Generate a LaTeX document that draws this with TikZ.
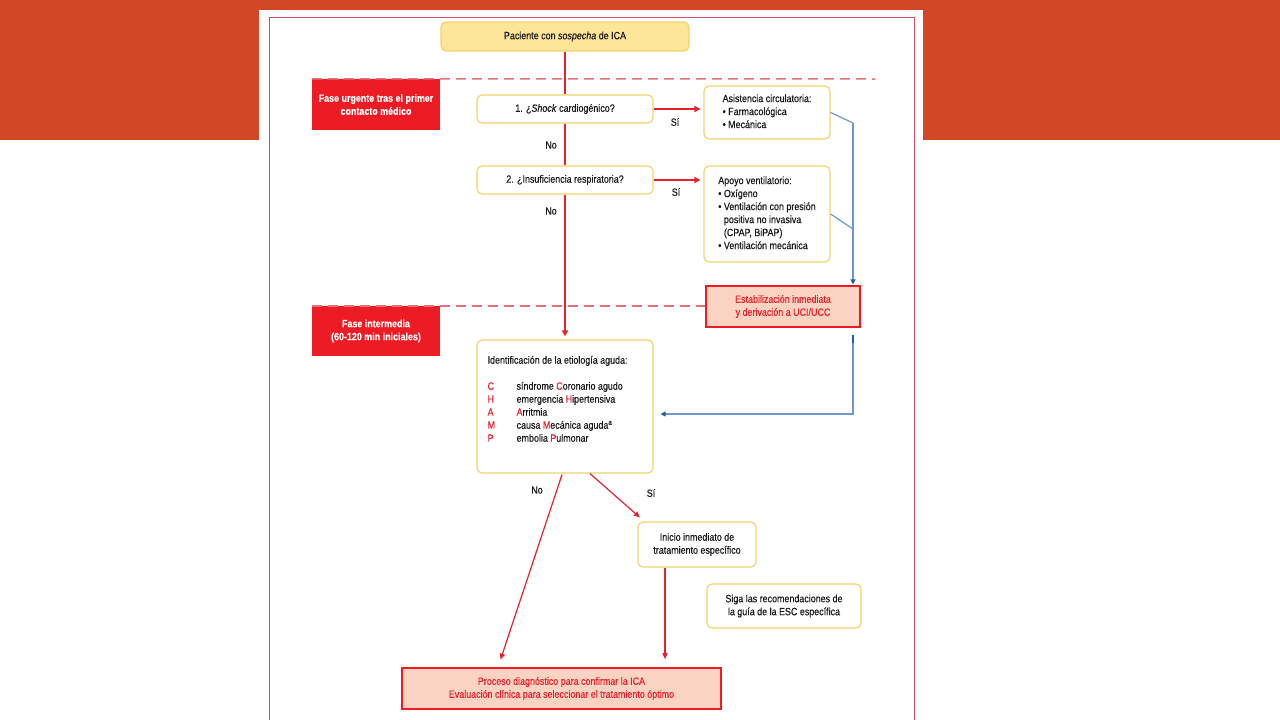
\documentclass[tikz,border=0pt]{standalone}
\usepackage{fontspec}
\setmainfont{Liberation Sans}[FakeStretch=0.85,FakeBold=0.3]
\usetikzlibrary{arrows.meta,calc}
\definecolor{bandorange}{HTML}{D24726}
\definecolor{panelred}{HTML}{C8506A}
\definecolor{fasered}{HTML}{ED1C24}
\definecolor{dashred}{HTML}{E8707A}
\definecolor{gold}{HTML}{F3D36E}
\definecolor{topfill}{HTML}{FDE59A}
\definecolor{salmon}{HTML}{FAD3C3}
\definecolor{txtred}{HTML}{E8202A}
\definecolor{lineblue}{HTML}{6F98CC}
\definecolor{darkblue}{HTML}{1F5FA8}
\definecolor{flowred}{HTML}{E8202A}
\definecolor{txtgray}{HTML}{1A1A1A}
\tikzset{
  base/.style={inner sep=0pt, align=center, text=txtgray, font=\fontsize{10.5}{13}\selectfont},
  ybox/.style={base, draw=gold, line width=1.2pt, rounded corners=5pt, fill=white},
  topbox/.style={ybox, fill=topfill},
  fasebox/.style={base, fill=fasered, text=white, font=\fontsize{10.5}{13}\selectfont\bfseries},
  salbox/.style={base, draw=fasered, line width=1.2pt, fill=salmon, text=txtred},
  lbl/.style={base},
  mainflow/.style={draw=flowred, line width=2pt},
  mainarrow/.style={mainflow, -{Triangle[length=6pt,width=6pt]}},
  thinarrow/.style={draw=flowred, line width=1.2pt, -{Triangle[length=6pt,width=5pt]}},
  dashline/.style={draw=dashred, line width=1.5pt, dash pattern=on 10pt off 6pt},
  blueline/.style={draw=lineblue, line width=1.2pt},
  bluearrow/.style={blueline, -{Triangle[length=5pt,width=5pt,color=darkblue]}},
}
\begin{document}
\begin{tikzpicture}[x=1pt,y=-1pt]
\useasboundingbox (0,0) rectangle (1280,720);
% background
\fill[bandorange] (0,0) rectangle (1280,140);
\fill[white] (259,10) rectangle (923,722);
\draw[panelred, line width=1pt] (269,17) rectangle (914,730);

% phase boxes
\node[fasebox, minimum width=128pt, minimum height=51pt] (fase1) at (376,104.5)
  {Fase urgente tras el primer\\contacto médico};
\node[fasebox, minimum width=128pt, minimum height=50pt] (fase2) at (376,331)
  {Fase intermedia\\(60-120 min iniciales)};

% nodes
\node[topbox, minimum width=248pt, minimum height=29pt] (top) at (565,36.5)
  {Paciente con \textit{sospecha} de ICA};
\node[ybox, minimum width=176pt, minimum height=28pt] (q1) at (565,109)
  {1. ¿\textit{Shock} cardiogénico?};
\node[ybox, minimum width=176pt, minimum height=28pt] (q2) at (565,180)
  {2. ¿Insuficiencia respiratoria?};
\node[ybox, minimum width=126pt, minimum height=53pt, align=left] (asis) at (767,112.5)
  {\begin{tabular}{@{}l@{}}Asistencia circulatoria:\\
   \textbullet\ Farmacológica\\ \textbullet\ Mecánica\end{tabular}};
\node[ybox, minimum width=126pt, minimum height=96pt, align=left] (apoyo) at (767,214)
  {\begin{tabular}{@{}l@{}}Apoyo ventilatorio:\\
   \textbullet\ Oxígeno\\
   \textbullet\ Ventilación con presión\\
   \phantom{\textbullet\ }positiva no invasiva\\
   \phantom{\textbullet\ }(CPAP, BiPAP)\\
   \textbullet\ Ventilación mecánica\end{tabular}};
\node[salbox, minimum width=154pt, minimum height=41pt] (estab) at (783,306.5)
  {Estabilización inmediata\\y derivación a UCI/UCC};
\node[ybox, minimum width=176pt, minimum height=133pt] (ident) at (565,406.5) {};
\node[base, anchor=north west, align=left] (identtxt) at ($(ident.north west)+(11,15)$)
  {\begin{tabular}{@{}p{29pt}@{}l@{}}
   \multicolumn{2}{@{}l@{}}{Identificación de la etiología aguda:}\\[13pt]
   \textcolor{txtred}{C} & síndrome \textcolor{txtred}{C}oronario agudo\\
   \textcolor{txtred}{H} & emergencia \textcolor{txtred}{H}ipertensiva\\
   \textcolor{txtred}{A} & \textcolor{txtred}{A}rritmia\\
   \textcolor{txtred}{M} & causa \textcolor{txtred}{M}ecánica aguda\textsuperscript{a}\\
   \textcolor{txtred}{P} & embolia \textcolor{txtred}{P}ulmonar
   \end{tabular}};
\node[ybox, minimum width=118pt, minimum height=45pt] (inicio) at (697,544.5)
  {Inicio inmediato de\\tratamiento específico};
\node[ybox, minimum width=154pt, minimum height=44pt] (siga) at (784,606)
  {Siga las recomendaciones de\\la guía de la ESC específica};
\node[salbox, minimum width=319pt, minimum height=41pt, line width=1.6pt] (final) at (561.5,688.5)
  {Proceso diagnóstico para confirmar la ICA\\Evaluación clínica para seleccionar el tratamiento óptimo};

% dashed phase lines
\coordinate (d1end) at (875,79);
\draw[dashline] (fase1.north west) -- (d1end);
\draw[dashline] (fase2.north west) -- (estab.west |- fase2.north);

% main red flow
\draw[mainflow] (top.south) -- (q1.north);
\draw[mainflow] (q1.south) -- (q2.north);
\draw[mainarrow, shorten >=3pt] (q2.south) -- (ident.north);
\draw[mainarrow, shorten >=3pt] (q1.east) -- (asis.west |- q1.east);
\draw[mainarrow, shorten >=3pt] (q2.east) -- (apoyo.west |- q2.east);

% labels
\node[lbl] (si1) at (675,122) {Sí};
\node[lbl] (si2) at (676,192) {Sí};
\node[lbl] (no1) at (551,145) {No};
\node[lbl] (no2) at (551,211) {No};
\node[lbl] (no3) at (537,490) {No};
\node[lbl] (si3) at (651,493) {Sí};

% blue connectors
\coordinate (b1) at (853,123);
\coordinate (b2) at (853,229);
\coordinate (b3) at (853,335);
\coordinate (b4) at (853,414);
\draw[blueline] (asis.east) -- (b1);
\draw[blueline] (apoyo.east) -- (b2);
\draw[bluearrow, shorten >=1pt] (b1) -- (b1 |- estab.north);
\draw[bluearrow, shorten >=7pt] (b3) -- (b4) -- (ident.east |- b4);
\draw[draw=darkblue, line width=1.5pt] (b3) -- ($(b3)+(0,8)$);

% lower flow
\draw[thinarrow, shorten >=8pt] ($(ident.south)+(-3,1)$) -- ($(final.north)+(-63.5,0)$);
\draw[thinarrow, shorten >=6pt] ($(ident.south)+(25,0)$) -- ($(inicio.north west)+(7,0)$);
\draw[thinarrow, shorten >=8pt] ($(inicio.south)+(-32,0)$) coordinate (s3) -- (s3 |- final.north);
\end{tikzpicture}
\end{document}
